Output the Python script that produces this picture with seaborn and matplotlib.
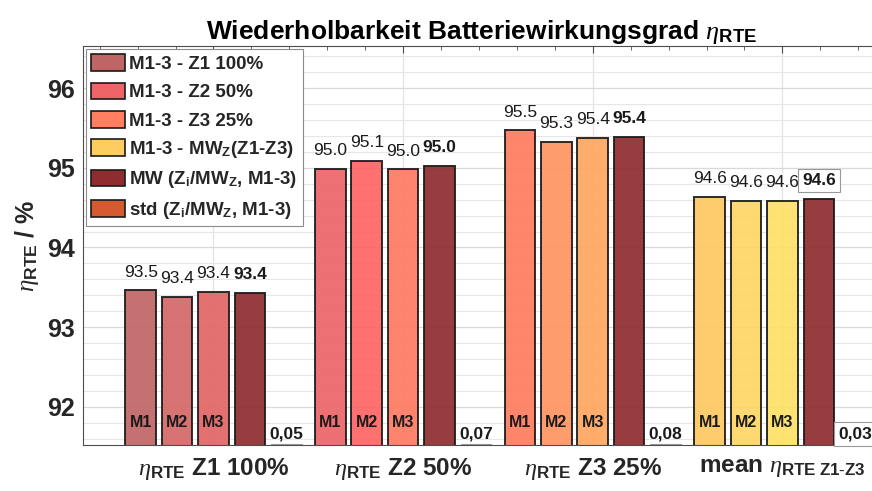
import numpy as np
import pandas as pd
import matplotlib
matplotlib.use("Agg")
import matplotlib.pyplot as plt
from matplotlib.patches import Patch
from matplotlib.ticker import MultipleLocator, FixedLocator
import seaborn as sns

# --- data ---
groups = [r"$\eta_{\mathbf{RTE}}$ Z1 100%", r"$\eta_{\mathbf{RTE}}$ Z2 50%",
          r"$\eta_{\mathbf{RTE}}$ Z3 25%", r"mean $\eta_{\mathbf{RTE\ Z1\text{-}Z3}}$"]
m1 = [93.46, 94.99, 95.47, 94.64]
m2 = [93.38, 95.09, 95.32, 94.59]
m3 = [93.44, 94.98, 95.38, 94.59]
mw = [93.43, 95.02, 95.39, 94.61]
std = [0.05, 0.07, 0.08, 0.03]
meas_labels = ["M1", "M2", "M3"]

colors_m = [
    ["#c06565", "#d46767", "#e26565"],   # Z1
    ["#ec6468", "#ff6464", "#ff7a62"],   # Z2
    ["#ff7c5e", "#ff9462", "#ffa660"],   # Z3
    ["#fec860", "#fed564", "#fee066"],   # mean
]
color_mw = "#8e2c30"
color_std = "#d65a30"

legend_labels = ["M1-3 - Z1 100%", "M1-3 - Z2 50%", "M1-3 - Z3 25%",
                 r"M1-3 - MW$_{\mathbf{Z}}$(Z1-Z3)",
                 r"MW (Z$_{\mathbf{i}}$/MW$_{\mathbf{Z}}$, M1-3)",
                 r"std (Z$_{\mathbf{i}}$/MW$_{\mathbf{Z}}$, M1-3)"]
legend_colors = ["#c06565", "#ee6468", "#ff8060", "#ffcc60", color_mw, color_std]

# --- layout helpers ---
step = 0.192
ylo, yhi = 91.52, 96.53

rows = []
for g in range(len(groups)):
    vals = [m1[g], m2[g], m3[g], mw[g]]
    for k, v in enumerate(vals):
        rows.append({"pos": g + (k - 2) * step, "val": v, "bar": f"{g}_{k}",
                     "color": colors_m[g][k] if k < 3 else color_mw})
df = pd.DataFrame(rows)
palette = dict(zip(df["bar"], df["color"]))

sns.set_style("white")
plt.rcParams["font.family"] = ["Liberation Sans", "DejaVu Sans"]
plt.rcParams["mathtext.fontset"] = "custom"
plt.rcParams["mathtext.rm"] = "Liberation Sans"
plt.rcParams["mathtext.bf"] = "Liberation Sans:bold"
plt.rcParams["mathtext.it"] = "Liberation Serif:italic"
plt.rcParams["mathtext.sf"] = "Liberation Sans"

fig = plt.figure(figsize=(8.72, 4.91), dpi=100)
ax = fig.add_axes([83 / 872, 46 / 491, 798 / 872, 399 / 491])

sns.barplot(data=df, x="pos", y="val", hue="bar", palette=palette, saturation=1,
            native_scale=True, dodge=False, width=0.84, legend=False,
            alpha=0.92, edgecolor="#1a1a1a", linewidth=1.4, ax=ax, zorder=2)

# std bars (tiny, sitting on the axis floor)
std_pos = [g + 2 * step for g in range(len(groups))]
ax.bar(std_pos, [s * 0.15 for s in std], bottom=ylo, width=0.162,
       color="#bdbdbd", edgecolor="#9a9a9a", linewidth=0.8, zorder=2)

ax.set_xlim(-0.688, 3.52)
ax.set_ylim(ylo, yhi)

# value labels
for g in range(len(groups)):
    vals = [m1[g], m2[g], m3[g], mw[g]]
    for k, v in enumerate(vals):
        x = g + (k - 2) * step
        if k < 3:
            ax.annotate(f"{v:.1f}", (x, v), xytext=(0, 10), textcoords="offset points",
                        ha="center", va="baseline", fontsize=12.5, color="#1a1a1a")
            ax.text(x, 91.75, meas_labels[k], ha="center", va="baseline",
                    fontsize=11.5, fontweight="bold", color="#1a1a1a", zorder=4)
        else:
            box = None
            if g == len(groups) - 1:
                box = dict(boxstyle="square,pad=0.25", fc="white", ec="#999999", lw=0.8)
            ax.annotate(f"{v:.1f}", (x, v), xytext=(0, 10), textcoords="offset points",
                        ha="center", va="baseline", fontsize=12.5, fontweight="bold",
                        color="#1a1a1a", bbox=box)
    box = None
    if g == len(groups) - 1:
        box = dict(boxstyle="square,pad=0.25", fc="white", ec="#999999", lw=0.8)
    ax.text(std_pos[g], 91.6, f"{std[g]:.2f}".replace(".", ","), ha="center",
            va="baseline", fontsize=12.5, fontweight="bold", color="#1a1a1a",
            bbox=box, zorder=4)

# axes styling
ax.xaxis.set_major_locator(FixedLocator(range(len(groups))))
ax.xaxis.set_minor_locator(MultipleLocator(0.2))
ax.set_xticklabels(groups, fontsize=17.5, fontweight="bold", color="#262626")
ax.yaxis.set_minor_locator(MultipleLocator(0.2))
ax.set_yticks([92, 93, 94, 95, 96])
ax.set_yticklabels(["92", "93", "94", "95", "96"], fontsize=18, fontweight="bold",
                   color="#262626")
ax.tick_params(axis="both", which="both", direction="in", top=True, right=True,
               colors="#4d4d4d", labelcolor="#262626")
ax.tick_params(axis="both", which="major", length=5, width=0.8, pad=6)
ax.tick_params(axis="both", which="minor", length=3, width=0.6)
ax.tick_params(axis="x", which="major", pad=8)

ax.grid(True, axis="y", which="major", color="#d9d9d9", lw=0.9, zorder=0)
ax.grid(True, axis="y", which="minor", color="#e6e6e6", lw=0.8, zorder=0)
ax.grid(True, axis="x", which="major", color="#e3e3e3", lw=0.9, zorder=0)
ax.set_axisbelow(True)
for sp in ax.spines.values():
    sp.set_color("#4d4d4d")
    sp.set_linewidth(0.8)

ax.set_xlabel("")
ax.set_ylabel(r"$\eta_{\mathbf{RTE}}$ / %", fontsize=18, fontweight="bold",
              color="#262626", labelpad=4)
ax.set_title(r"Wiederholbarkeit Batteriewirkungsgrad $\eta_{\mathbf{RTE}}$",
             fontsize=19, fontweight="bold", color="black", pad=5)

handles = [Patch(facecolor=c, edgecolor="#1a1a1a", linewidth=1.2) for c in legend_colors]
leg = ax.legend(handles, legend_labels, loc="upper left", bbox_to_anchor=(0, 1),
                borderaxespad=0.15, fancybox=False, framealpha=1, edgecolor="#8c8c8c",
                prop={"weight": "bold", "size": 13.5}, handlelength=1.8,
                handleheight=1.0, handletextpad=0.2, labelspacing=0.5,
                borderpad=0.3)
leg.get_frame().set_linewidth(0.8)

fig.savefig("out.png", dpi=100)
